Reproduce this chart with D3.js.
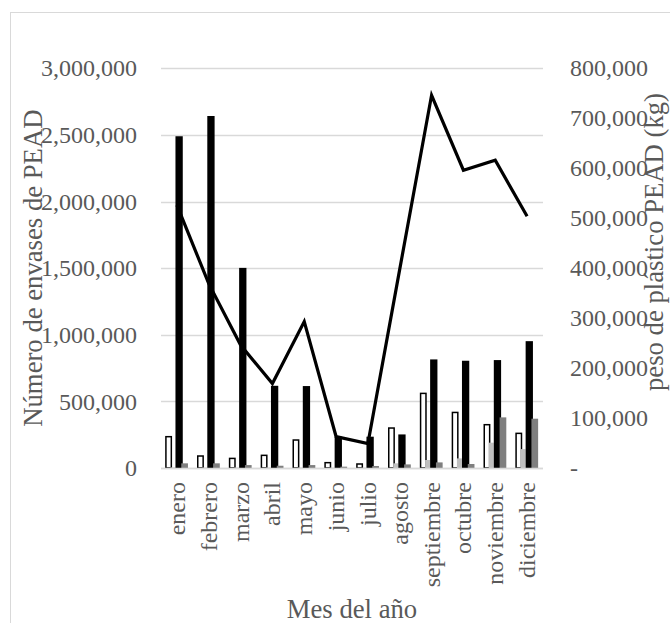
<!DOCTYPE html>
<html>
<head>
<meta charset="utf-8">
<script src="https://cdn.jsdelivr.net/npm/d3@7"></script>
<style>
  html, body { margin: 0; padding: 0; background: #fff; }
  svg { display: block; }
  text { font-family: "Liberation Serif", "Times New Roman", serif; fill: #595959; }
</style>
</head>
<body>
<svg id="chart" width="670" height="623"></svg>
<script>
// ---------- DATA ----------
const months = ["enero","febrero","marzo","abril","mayo","junio","julio","agosto","septiembre","octubre","noviembre","diciembre"];
const serieA = [235000, 90000, 72000, 95000, 210000, 40000, 30000, 300000, 560000, 417000, 325000, 260000];
const serieB = [4000, 3000, 3000, 3000, 3000, 2000, 2000, 35000, 60000, 72000, 190000, 142000];
const envases = [2490000, 2642000, 1502000, 617000, 615000, 235000, 235000, 252000, 815000, 805000, 810000, 952000];
const serieD = [35000, 35000, 22000, 17000, 22000, 10000, 15000, 27000, 42000, 30000, 380000, 370000];
const pesoKg = [526000, 369000, 246000, 169000, 293000, 63000, 49000, 398000, 746000, 596000, 616000, 504000];
const leftTicks = [0, 500000, 1000000, 1500000, 2000000, 2500000, 3000000];
const rightTicks = [0, 100000, 200000, 300000, 400000, 500000, 600000, 700000, 800000];

// ---------- STYLE / LAYOUT ----------
const barSeries = [
  { values: serieA,  fill: "#ffffff", stroke: "#000000", sw: 1.5, offset: -8.3, width: 5.4 },
  { values: serieB,  fill: "#bfbfbf", stroke: "none",    sw: 0,   offset: -4.0, width: 5.0 },
  { values: envases, fill: "#000000", stroke: "none",    sw: 0,   offset: 2.2,  width: 7.3 },
  { values: serieD,  fill: "#7f7f7f", stroke: "none",    sw: 0,   offset: 7.7,  width: 6.7 }
];
const plot = { left: 161, right: 543, top: 68.3, bottom: 468 };

const svg = d3.select("#chart");

// chart area border
svg.append("rect")
  .attr("x", 10.5).attr("y", 12.5)
  .attr("width", 700).attr("height", 700)
  .attr("fill", "none").attr("stroke", "#d9d9d9").attr("stroke-width", 1);

const x = d3.scaleBand().domain(months).range([plot.left, plot.right]).padding(0);
const yL = d3.scaleLinear().domain([0, 3000000]).range([plot.bottom, plot.top]);
const yR = d3.scaleLinear().domain([0, 800000]).range([plot.bottom, plot.top]);

const fmt = d3.format(",");

// gridlines
svg.append("g")
  .selectAll("line")
  .data(leftTicks)
  .join("line")
  .attr("x1", plot.left).attr("x2", plot.right)
  .attr("y1", d => Math.round(yL(d)) + 0.5).attr("y2", d => Math.round(yL(d)) + 0.5)
  .attr("stroke", "#d9d9d9").attr("stroke-width", 1.3);

// left axis
const leftAxis = svg.append("g")
  .attr("transform", `translate(${plot.left},0)`)
  .call(d3.axisLeft(yL).tickValues(leftTicks).tickFormat(fmt).tickSize(0).tickPadding(24));
leftAxis.select(".domain").remove();
leftAxis.selectAll("text")
  .attr("font-size", 24).attr("fill", "#595959");

// right axis
const rightAxis = svg.append("g")
  .attr("transform", `translate(${plot.right},0)`)
  .call(d3.axisRight(yR).tickValues(rightTicks).tickFormat(d => d === 0 ? "-" : fmt(d)).tickSize(0).tickPadding(27));
rightAxis.select(".domain").remove();
rightAxis.selectAll("text")
  .attr("font-size", 24).attr("fill", "#595959");

// bars
barSeries.forEach(s => {
  svg.append("g")
    .selectAll("rect")
    .data(months.map((m, i) => ({ m, v: s.values[i] })))
    .join("rect")
    .attr("x", d => x(d.m) + x.bandwidth() / 2 + s.offset - s.width / 2)
    .attr("width", s.width)
    .attr("y", d => yL(d.v))
    .attr("height", d => Math.max(0, yL(0) - yL(d.v)))
    .attr("fill", s.fill)
    .attr("stroke", s.stroke)
    .attr("stroke-width", s.sw);
});

// x axis baseline
svg.append("line")
  .attr("x1", plot.left).attr("x2", plot.right)
  .attr("y1", plot.bottom + 0.5).attr("y2", plot.bottom + 0.5)
  .attr("stroke", "#d9d9d9").attr("stroke-width", 1.3);

// line series (right axis)
const line = d3.line()
  .x((d, i) => x(months[i]) + x.bandwidth() / 2)
  .y(d => yR(d));
svg.append("path")
  .datum(pesoKg)
  .attr("d", line)
  .attr("fill", "none")
  .attr("stroke", "#000")
  .attr("stroke-width", 3.2)
  .attr("stroke-linejoin", "miter");

// category labels
const xAxis = svg.append("g")
  .attr("transform", `translate(0,${plot.bottom})`)
  .call(d3.axisBottom(x).tickSize(0).tickPadding(0));
xAxis.select(".domain").remove();
xAxis.selectAll("text")
  .attr("font-size", 24).attr("fill", "#595959")
  .attr("transform", "rotate(-90)")
  .attr("text-anchor", "end")
  .attr("x", -14).attr("y", 0).attr("dy", "0.33em");

// axis titles
svg.append("text")
  .attr("x", (plot.left + plot.right) / 2).attr("y", 618)
  .attr("text-anchor", "middle")
  .attr("font-size", 26.7)
  .text("Mes del año");

svg.append("text")
  .attr("transform", `translate(42,${(plot.top + plot.bottom) / 2}) rotate(-90)`)
  .attr("text-anchor", "middle")
  .attr("font-size", 26.7)
  .text("Número de envases de PEAD");

svg.append("text")
  .attr("transform", `translate(663,242) rotate(-90)`)
  .attr("text-anchor", "middle")
  .attr("font-size", 26.7)
  .text("peso de plástico PEAD (kg)");
</script>
</body>
</html>
